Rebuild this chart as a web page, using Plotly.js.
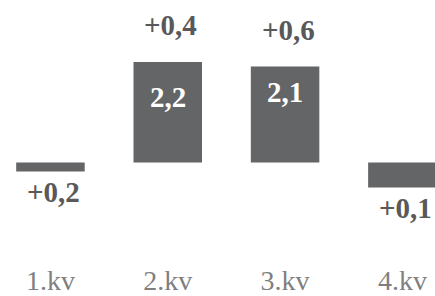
<!DOCTYPE html>
<html><head><meta charset="utf-8">
<script src="https://cdn.plot.ly/plotly-3.0.1.min.js"></script>
<style>html,body{margin:0;padding:0;background:#fff}#c{width:435px;height:296px}</style>
</head><body><div id="c"></div>
<script>
const categories = ["1.kv", "2.kv", "3.kv", "4.kv"];
const values = [-0.2, 2.2, 2.1, -0.55];
const insideLabels = ["", "2,2", "2,1", ""];
const changeLabels = ["+0,2", "+0,4", "+0,6", "+0,1"];

// layout-only offsets for the inside labels (pixels)
const insideShift = [0, -35, -25, 0];
const font = "Liberation Serif, Times New Roman, serif";
const annotations = [];
categories.forEach((c, i) => {
  const v = values[i];
  annotations.push({
    x: i, y: v, xref: 'x', yref: 'y', text: '<b>' + changeLabels[i] + '</b>',
    showarrow: false, yanchor: 'middle', xanchor: 'center',
    xshift: 3, yshift: v >= 0 ? 37 : -20,
    font: {family: font, size: 29, color: '#595959'}
  });
  if (insideLabels[i]) {
    annotations.push({
      x: i, y: v, xref: 'x', yref: 'y', text: '<b>' + insideLabels[i] + '</b>',
      showarrow: false, yanchor: 'middle', xanchor: 'center',
      yshift: insideShift[i],
      font: {family: font, size: 29, color: '#ffffff'}
    });
  }
});

Plotly.newPlot('c', [{
  type: 'bar', x: [0,1,2,3], y: values,
  marker: {color: '#646567'}, hoverinfo: 'none'
}], {
  width: 435, height: 296,
  margin: {l: 0, r: 0, t: 0, b: 35, pad: 0},
  paper_bgcolor: '#fff', plot_bgcolor: '#fff',
  bargap: 0.416, showlegend: false,
  xaxis: {range: [-0.43, 3.278], tickvals: [0,1,2,3], ticktext: categories,
    showgrid: false, zeroline: false, showline: false, ticks: '',
    tickfont: {family: font, size: 28, color: '#7f7f7f'}},
  yaxis: {range: [-2.16, 3.56], visible: false, showgrid: false, zeroline: false},
  annotations: annotations
}, {staticPlot: true, displayModeBar: false});
</script></body></html>
